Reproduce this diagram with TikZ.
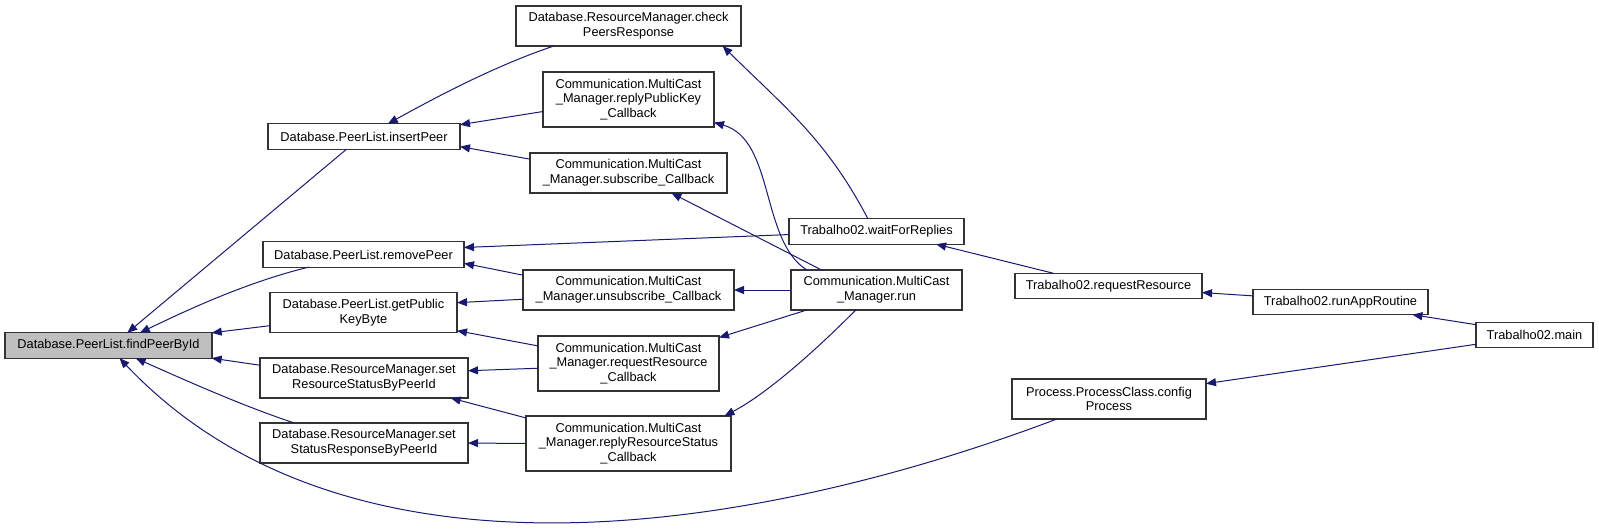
\documentclass[tikz,border=0pt]{standalone}
\usepackage{fontspec}
\setmainfont{Liberation Sans}
\usetikzlibrary{arrows.meta}
\definecolor{navy}{HTML}{191970}

\begin{document}
\begin{tikzpicture}[
  x=0.75pt, y=-0.75pt,
  fn/.style={draw=black!80, line width=0.8pt, fill=white, inner sep=1pt, outer sep=0pt,
    align=center, minimum height=19pt, font=\fontsize{9.6}{11}\selectfont},
  two/.style={minimum height=30pt},
  three/.style={minimum height=41.25pt},
  cur/.style={fill=black!25},
  call/.style={-{Triangle[length=7.5pt,width=6pt]}, draw=navy, line width=0.75pt}]
  \useasboundingbox (0,0) rectangle (1599,529);
  % callee column
  \node[fn, cur, minimum width=155.25pt] (fpb) at (108.5,345.5) {Database.PeerList.findPeerById};
  \node[fn, minimum width=144pt] (ins) at (364,136.5) {Database.PeerList.insertPeer};
  \node[fn, minimum width=150.75pt] (rem) at (363.5,254.5) {Database.PeerList.removePeer};
  \node[fn, two, minimum width=140.25pt] (gpk) at (363.5,312.5) {Database.PeerList.getPublic\\KeyByte};
  \node[fn, two, minimum width=156pt] (srs) at (364,378) {Database.ResourceManager.set\\ResourceStatusByPeerId};
  \node[fn, two, minimum width=156pt] (ssr) at (364,443) {Database.ResourceManager.set\\StatusResponseByPeerId};
  % callbacks
  \node[fn, two, minimum width=168.75pt] (cpr) at (628.5,26) {Database.ResourceManager.check\\PeersResponse};
  \node[fn, three, minimum width=128.25pt] (rpk) at (628.5,99.5) {Communication.MultiCast\\\_Manager.replyPublicKey\\\_Callback};
  \node[fn, two, minimum width=147.75pt] (sub) at (628.5,173) {Communication.MultiCast\\\_Manager.subscribe\_Callback};
  \node[fn, two, minimum width=158.25pt] (uns) at (628.5,290) {Communication.MultiCast\\\_Manager.unsubscribe\_Callback};
  \node[fn, three, minimum width=135.75pt] (rrc) at (628.5,363.5) {Communication.MultiCast\\\_Manager.requestResource\\\_Callback};
  \node[fn, three, minimum width=153.75pt] (rrs) at (628.5,443.5) {Communication.MultiCast\\\_Manager.replyResourceStatus\\\_Callback};
  % callers
  \node[fn, minimum width=131.25pt] (wfr) at (876.5,231.5) {Trabalho02.waitForReplies};
  \node[fn, two, minimum width=128.25pt] (run) at (876.5,290) {Communication.MultiCast\\\_Manager.run};
  \node[fn, minimum width=140.25pt] (req) at (1108.5,286) {Trabalho02.requestResource};
  \node[fn, two, minimum width=145.5pt] (cfg) at (1109,399) {Process.ProcessClass.config\\Process};
  \node[fn, minimum width=131.25pt] (rar) at (1340.5,302) {Trabalho02.runAppRoutine};
  \node[fn, minimum width=87.75pt] (main) at (1534.5,335) {Trabalho02.main};

  % calls into findPeerById
  \draw[call] (ins.-144) -- (fpb.34);
  \draw[call] (rem.-167) .. controls (247,282) and (185,311) .. (fpb.22);
  \draw[call] (gpk.-172) -- (fpb.7);
  \draw[call] (srs.173) -- (fpb.-7);
  \draw[call] (ssr.164) .. controls (243,406) and (187,381) .. (fpb.-25);
  \draw[call] (cfg.-159) .. controls (790,520) and (360,612) .. (fpb.-49);
  % second level
  \draw[call] (cpr.-165) .. controls (497,65) and (438,96) .. (ins.28);
  \draw[call] (rpk.-172) -- (ins.7);
  \draw[call] (sub.172) -- (ins.-6);
  \draw[call] (wfr.-178) -- (rem.4);
  \draw[call] (uns.172) -- (rem.-5);
  \draw[call] (uns.-175) -- (gpk.6);
  \draw[call] (rrc.169) -- (gpk.-11);
  \draw[call] (rrc.-177) -- (srs.4);
  \draw[call] (rrs.166) -- (srs.-13);
  \draw[call] (rrs.west) -- (ssr.east);
  % third level
  \draw[call] (wfr.124) .. controls (827,141) and (788,110) .. (cpr.-12);
  \draw[call] (run.164) .. controls (760,240) and (775,140) .. (rpk.-15);
  \draw[call] (run.160) -- (sub.-25);
  \draw[call] (run.west) -- (uns.east);
  \draw[call] (run.-164) -- (rrc.16);
  \draw[call] (run.-136) .. controls (821,345) and (770,392) .. (rrs.16);
  % top of the chain
  \draw[call] (req.167) -- (wfr.-12);
  \draw[call] (rar.176) -- (req.-4);
  \draw[call] (main.170) -- (rar.-10);
  \draw[call] (main.-171) -- (cfg.9);
\end{tikzpicture}
\end{document}
